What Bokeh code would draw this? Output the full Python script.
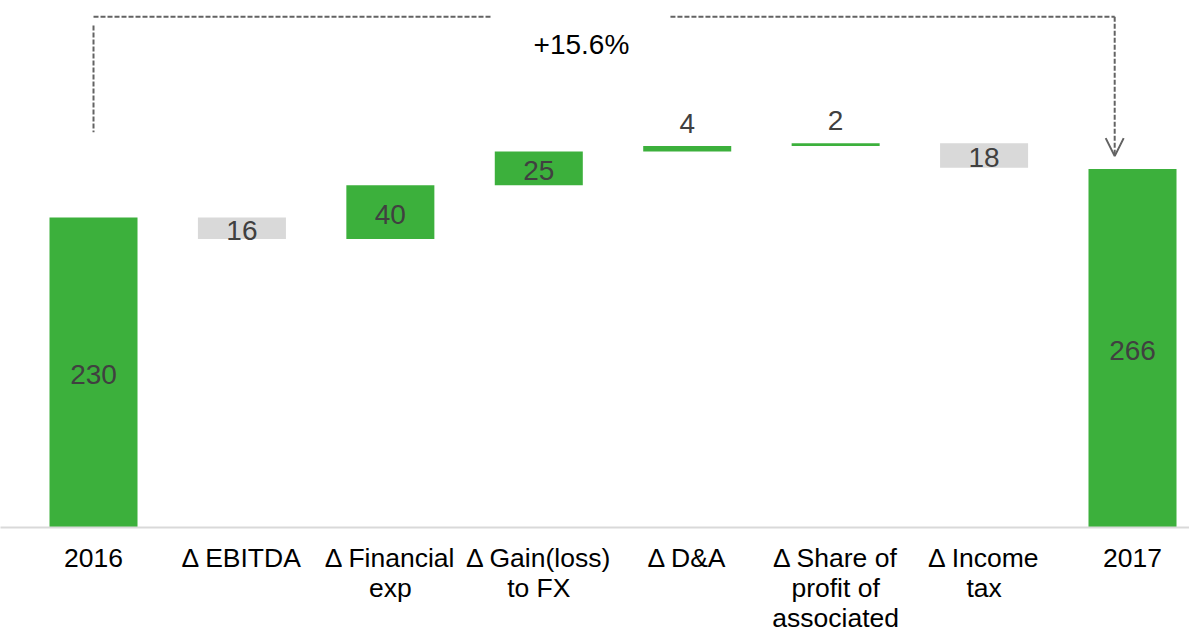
from bokeh.plotting import figure
from bokeh.models import FixedTicker, ColumnDataSource, Arrow, OpenHead, Range1d
from bokeh.core.properties import value
from bokeh.embed import file_html
from bokeh.resources import INLINE

# ---- data ----
categories = ["2016", "Δ EBITDA", "Δ Financial\nexp", "Δ Gain(loss)\nto FX", "Δ D&A",
              "Δ Share of\nprofit of\nassociated", "Δ Income\ntax", "2017"]
values = [230, -16, 40, 25, 4, 2, -18, 266]
is_total = [True, False, False, False, False, False, False, True]
change_label = "+15.6%"

# ---- styles ----
GREEN = "#3CB03C"
GRAY = "#D9D9D9"
DASH_COLOR = "#636363"
LABEL_COLOR = "#404040"
FONT = "Liberation Sans"

# ---- waterfall geometry from data ----
xs = list(range(len(categories)))
bottoms, tops, colors = [], [], []
running = 0
for v, tot in zip(values, is_total):
    if tot:
        b, t = 0, v
        running = v
    else:
        b, t = running, running + v
        running += v
    bottoms.append(min(b, t))
    tops.append(max(b, t))
    colors.append(GREEN if (tot or v > 0) else GRAY)

src = ColumnDataSource(dict(x=xs, bottom=bottoms, top=tops, color=colors))

# labels: inside bar if tall enough, else above
in_x, in_y, in_t = [], [], []
ab_x, ab_y, ab_t = [], [], []
for x, b, t, v in zip(xs, bottoms, tops, values):
    if t - b >= 10:
        in_x.append(x); in_y.append((b + t) / 2); in_t.append(str(abs(v)))
    else:
        ab_x.append(x); ab_y.append(t); ab_t.append(str(abs(v)))

x_start, x_end = -0.6266, 7.384
y_start, y_end = 0, 391.0

p = figure(width=1189, height=635, output_backend="svg", toolbar_location=None,
           x_range=Range1d(x_start, x_end), y_range=Range1d(y_start, y_end),
           min_border_left=0, min_border_right=0, min_border_top=0, min_border_bottom=0)
p.outline_line_color = None
p.grid.visible = False
p.yaxis.visible = False
p.background_fill_color = "white"
p.border_fill_color = "white"

xa = p.xaxis[0]
xa.ticker = FixedTicker(ticks=xs)
xa.major_label_overrides = {i: c for i, c in zip(xs, categories)}
xa.major_label_text_font = FONT
xa.major_label_text_font_size = "26.5px"
xa.major_label_text_color = "#000000"
xa.major_label_text_line_height = 1.0
xa.major_label_standoff = 9
xa.axis_line_color = GRAY
xa.axis_line_width = 2
xa.major_tick_line_color = None
xa.minor_tick_line_color = None

# bars
p.vbar(x="x", bottom="bottom", top="top", width=0.593, fill_color="color",
       line_color=None, source=src)

# value labels
p.text(x=in_x, y=in_y, text=in_t, text_font=value(FONT), text_font_size="28px",
       text_color=LABEL_COLOR, text_align="center", text_baseline="middle", y_offset=2)
p.text(x=ab_x, y=ab_y, text=ab_t, text_font=value(FONT), text_font_size="28px",
       text_color=LABEL_COLOR, text_align="center", text_baseline="bottom", y_offset=-13)

# growth connector
conn_y = 379.0
left_x = xs[0]
arrow_x = xs[-1] - 0.12
gap_l, gap_r = 2.688, 3.887
p.segment(x0=[left_x, left_x, gap_r], y0=[372.4, conn_y, conn_y],
          x1=[left_x, gap_l, arrow_x], y1=[293.2, conn_y, conn_y],
          line_color=DASH_COLOR, line_width=2, line_dash="5 2")
p.add_layout(Arrow(end=OpenHead(size=18, line_color=DASH_COLOR, line_width=2),
                   x_start=arrow_x, y_start=conn_y, x_end=arrow_x, y_end=tops[-1] + 9.5,
                   line_color=DASH_COLOR, line_width=2, line_dash="5 2"))
p.text(x=[(gap_l + gap_r) / 2], y=[358.3], text=[change_label], text_font=value(FONT),
       text_font_size="28px", text_color="#000000", text_align="center",
       text_baseline="middle")

open("out.html", "w").write(file_html(p, INLINE))
